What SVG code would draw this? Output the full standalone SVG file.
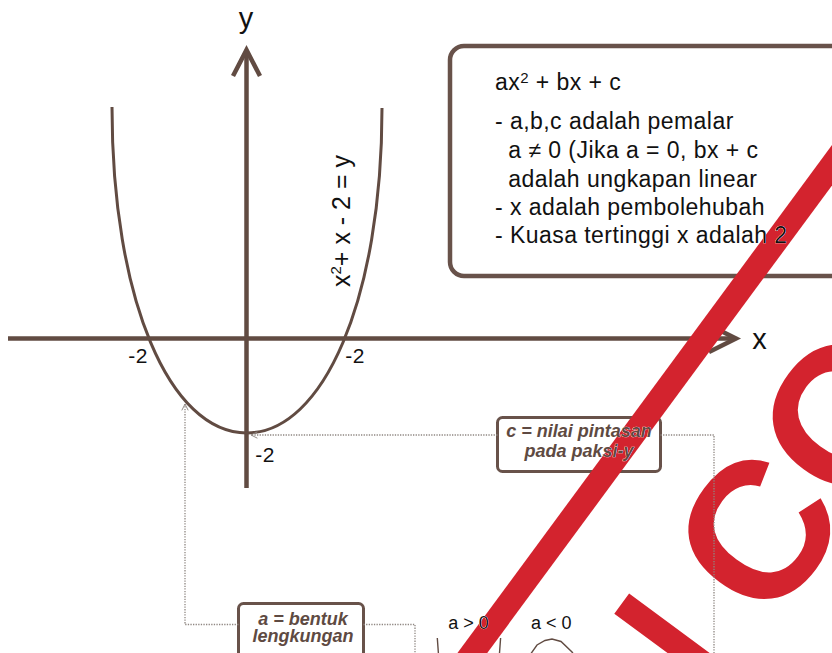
<svg xmlns="http://www.w3.org/2000/svg" width="832" height="653" viewBox="0 0 832 653">
<defs>
<style>
.axis{fill:none;stroke:#614b42;stroke-width:4.5;stroke-linejoin:miter}
.curve{fill:none;stroke:#614b42;stroke-width:3}
.frame{fill:none;stroke:#68524a;stroke-width:4.5}
.frame2{fill:none;stroke:#68524a;stroke-width:3}
.dot{fill:none;stroke:#8f8782;stroke-width:1.3;stroke-dasharray:1.3 1.3}
.sk{fill:none;stroke:#614b42;stroke-width:1.4}
.lbl{font-family:"Liberation Sans",Arial,sans-serif}
.ink{fill:#111}
.brown{fill:#5e4a42}
.t-ax{font-size:29px}
.t-num{font-size:21px;letter-spacing:0.4px}
.t-eq{font-size:25px}
.t-def{font-size:23px;letter-spacing:0.45px}
.t-node{font-size:18px;font-weight:bold;font-style:italic}
.t-sm{font-size:18px}
.wm{font-family:"Liberation Sans",Arial,sans-serif;font-size:195px;font-weight:bold;fill:#d3232e}
</style>
<marker id="ah" viewBox="0 0 10 10" refX="9" refY="5" markerWidth="8" markerHeight="8" markerUnits="userSpaceOnUse" orient="auto">
<path d="M1,1 L9,5 L1,9" fill="none" stroke="#8f8782" stroke-width="1.2"/>
</marker>
<mask id="wmMask" maskUnits="userSpaceOnUse" x="0" y="0" width="832" height="653">
<rect x="0" y="0" width="832" height="653" fill="#fff"/>
<use href="#t-kuasa" fill="#000" stroke="#000" stroke-width="0.6"/>
<use href="#t-c1" fill="#000" stroke="#000" stroke-width="0.6"/>
<use href="#t-c2" fill="#000" stroke="#000" stroke-width="0.6"/>
<use href="#t-agt" fill="#000" stroke="#000" stroke-width="0.6"/>
</mask>
</defs>

<g id="graph">
<path class="axis" d="M246.5,488 V52"/>
<path class="axis" d="M233,76 L246.5,50 L260,76"/>
<path class="axis" d="M8,338.5 H734"/>
<path class="axis" d="M709,325 L736,338.5 L709,352"/>
<path class="curve" d="M112,107 C112,300 170,433 246.7,433 C323,433 382,300 382,108"/>
<text class="lbl t-ax ink" x="246" y="28" text-anchor="middle">y</text>
<text class="lbl t-ax ink" x="759.5" y="349" text-anchor="middle">x</text>
<text class="lbl t-num ink" x="138" y="363" text-anchor="middle">-2</text>
<text class="lbl t-num ink" x="355" y="363" text-anchor="middle">-2</text>
<text class="lbl t-num ink" x="265" y="462" text-anchor="middle">-2</text>
<text class="lbl t-eq ink" transform="translate(350,287) rotate(-90)">x<tspan font-size="15" dy="-9">2</tspan><tspan dy="9">+ x - 2 = y</tspan></text>
</g>

<g id="node-def" class="ink">
<rect class="frame" x="450" y="46" width="400" height="230" rx="14"/>
<text class="lbl t-def" x="495" y="90">ax<tspan font-size="15" dy="-7">2</tspan><tspan dy="7"> + bx + c</tspan></text>
<text class="lbl t-def" x="495" y="129.3">- a,b,c adalah pemalar</text>
<text class="lbl t-def" x="508.3" y="158.3">a ≠ 0 (Jika a = 0, bx + c</text>
<text class="lbl t-def" x="508.3" y="186.7">adalah ungkapan linear</text>
<text class="lbl t-def" x="495" y="215">- x adalah pembolehubah</text>
<text id="t-kuasa" class="lbl t-def" x="495" y="243.3">- Kuasa tertinggi x adalah 2</text>
</g>

<g id="node-c" class="brown">
<rect class="frame2" x="497.5" y="417.5" width="163" height="54" rx="5"/>
<text id="t-c1" class="lbl t-node" x="579" y="437.3" text-anchor="middle">c = nilai pintasan</text>
<text id="t-c2" class="lbl t-node" x="579" y="456.7" text-anchor="middle">pada paksi-y</text>
</g>

<g id="node-a" class="brown">
<rect class="frame2" x="238.5" y="603.5" width="125" height="70" rx="5"/>
<text class="lbl t-node" x="303" y="625" text-anchor="middle">a = bentuk</text>
<text class="lbl t-node" x="303" y="641.5" text-anchor="middle">lengkungan</text>
</g>

<g id="node-sign" class="ink">
<text id="t-agt" class="lbl t-sm" x="448.3" y="629.3">a &gt; 0</text>
<text class="lbl t-sm" x="531" y="629.3">a &lt; 0</text>
<path class="sk" d="M437.3,638 L438.6,656 M500.6,638 L499.3,656"/>
<path class="sk" d="M530,655 L537,645 L545,640.5 L552,639 L561,641.5 L572,652 L574,655"/>
</g>

<g id="watermark" mask="url(#wmMask)">
<g transform="translate(769.5,629.1) rotate(-53.6)">
<rect x="-1200" y="-237" width="2400" height="24" fill="#d3232e"/>
<text class="wm" x="-41.6" y="0" text-anchor="end">SPECIMEN</text>
<text class="wm" x="0" y="0">COPY</text>
</g>
</g>

<g id="connectors">
<path class="dot" d="M660.5,435 H714 V660"/>
<path class="dot" d="M497.5,435 H251" marker-end="url(#ah)"/>
<path class="dot" d="M238.5,624.5 H185 V404" marker-end="url(#ah)"/>
<path class="dot" d="M363.5,624.5 H415 V660"/>
</g>
</svg>
